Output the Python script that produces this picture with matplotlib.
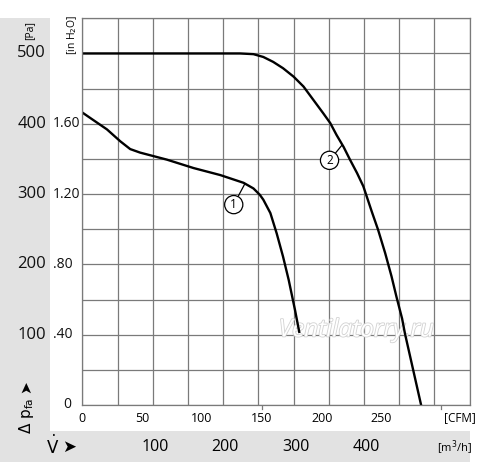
import matplotlib
matplotlib.use("Agg")
import matplotlib.pyplot as plt
import matplotlib.patheffects as pe
from matplotlib.patches import Rectangle
from matplotlib.transforms import blended_transform_factory

plt.rcParams['font.family'] = ['Open Sans', 'DejaVu Sans']
plt.rcParams['mathtext.fontset'] = 'dejavusans'

# curve 1, flow [m3/h] vs pressure [Pa]
c1_flow = [0, 16, 35, 54, 68, 82, 101, 120, 139, 158, 177, 196, 214, 229, 243, 252,
           257, 267, 276, 285, 293, 302, 308]
c1_pa = [416, 405, 392, 375, 364, 359, 354, 349, 343, 337, 332, 327, 321, 316, 308, 299,
         292, 273, 244, 211, 178, 135, 104]

# curve 2
c2_flow = [0, 120, 224, 243, 257, 271, 285, 300, 314, 328, 342, 352, 361, 371, 380, 390,
           399, 404, 411, 420, 430, 439, 446, 454, 458, 481]
c2_pa = [500, 500, 500, 499, 495, 488, 479, 467, 453, 434, 415, 401, 384, 367, 349, 330,
         311, 296, 275, 249, 216, 183, 154, 123, 102, 0]

pa_ticks = [100, 200, 300, 400, 500]
inh2o_labels = ['0', '.40', '.80', '1.20', '1.60']
inh2o_pos = [0, 100, 200, 300, 400]
cfm_ticks = [0, 50, 100, 150, 200, 250]
m3h_ticks = [100, 200, 300, 400]
CFM_TO_M3H = 1.699

fig = plt.figure(figsize=(5.0, 4.62), dpi=100)
W, H = 500, 462

def fx(px):
    return px / W

def fy(py):
    return 1 - py / H

# gray bands
band = '#e2e2e2'
fig.patches.append(Rectangle((0, fy(462)), fx(50), fy(18) - fy(462), transform=fig.transFigure,
                             fc=band, ec='none', zorder=-10))
fig.patches.append(Rectangle((0, fy(462)), fx(470), fy(431) - fy(462), transform=fig.transFigure,
                             fc=band, ec='none', zorder=-10))

ax = fig.add_axes([fx(82.3), fy(405), fx(469.7 - 82.3), (405 - 18.3) / H])
ax.set_xlim(0, 550)
ax.set_ylim(0, 550)
ax.set_xticks(range(0, 551, 50))
ax.set_yticks(range(0, 551, 50))
ax.grid(True, color='#7a7a7a', lw=0.9)
ax.tick_params(length=0, labelbottom=False, labelleft=False)
for s in ax.spines.values():
    s.set_color('#7a7a7a')
    s.set_linewidth(0.9)
ax.set_axisbelow(True)

ax.plot(c1_flow, c1_pa, color='black', lw=1.7, solid_joinstyle='round')
ax.plot(c2_flow, c2_pa, color='black', lw=1.7, solid_joinstyle='round')

circ = dict(boxstyle='circle,pad=0.22', fc='white', ec='black', lw=0.9)
ax.annotate('1', xy=(231, 315), xytext=(215, 285), fontsize=8.5, ha='center', va='center',
            bbox=circ, arrowprops=dict(arrowstyle='-', color='black', lw=0.9, shrinkA=0, shrinkB=0))
ax.annotate('2', xy=(369, 370), xytext=(351, 348), fontsize=8.5, ha='center', va='center',
            bbox=circ, arrowprops=dict(arrowstyle='-', color='black', lw=0.9, shrinkA=0, shrinkB=0))

# watermark
ax.text(389, 106, 'Ventilatorry.ru', fontsize=17.5, style='italic', color='white', ha='center',
        va='center', path_effects=[pe.withStroke(linewidth=1.2, foreground='#d2d2d2')], zorder=1)

# left labels
ty = blended_transform_factory(fig.transFigure, ax.transData)
for v in pa_ticks:
    ax.text(fx(46), v, str(v), transform=ty, fontsize=12, ha='right', va='center', color='#111111')
for pos, lab in zip(inh2o_pos, inh2o_labels):
    if lab == '0':
        ax.text(fx(67), pos, lab, transform=ty, fontsize=10, ha='center', va='center', color='#111111')
    else:
        ax.text(fx(53), pos, lab, transform=ty, fontsize=10, ha='left', va='center', color='#111111')

fig.text(fx(30), fy(30), '[Pa]', rotation=90, fontsize=7.5, ha='center', va='center')
fig.text(fx(72), fy(35), r'[in H$_2$O]', rotation=90, fontsize=7.5, ha='center', va='center')
fig.text(fx(26), fy(416), r'$\Delta\ \mathrm{p}_{\mathrm{fa}}$', rotation=90, fontsize=11,
         ha='center', va='center')
fig.text(fx(26), fy(387), '\u27a4', rotation=90, fontsize=11, ha='center', va='center',
         family='DejaVu Sans')

# bottom labels
tx = blended_transform_factory(ax.transData, fig.transFigure)
for v in cfm_ticks:
    ax.text(v * CFM_TO_M3H, fy(418), str(v), transform=tx, fontsize=9, ha='center', va='center')
for v in (150, 300):
    ax.plot([v * CFM_TO_M3H] * 2, [fy(406), fy(409)], transform=tx, color='#7a7a7a', lw=0.9,
            clip_on=False)
fig.text(fx(460), fy(418), '[CFM]', fontsize=8.5, ha='center', va='center')
for v in m3h_ticks:
    ax.text(v + 3, fy(447), str(v), transform=tx, fontsize=11.5, ha='center', va='center')
fig.text(fx(455), fy(448), r'[m$^3$/h]', fontsize=8, ha='center', va='center')
fig.text(fx(53), fy(446), r'$\dot{\mathrm{V}}$', fontsize=12, ha='center', va='center')
fig.text(fx(69), fy(447), '\u27a4', fontsize=12, ha='center', va='center', family='DejaVu Sans')

fig.savefig('out.png', dpi=100)
